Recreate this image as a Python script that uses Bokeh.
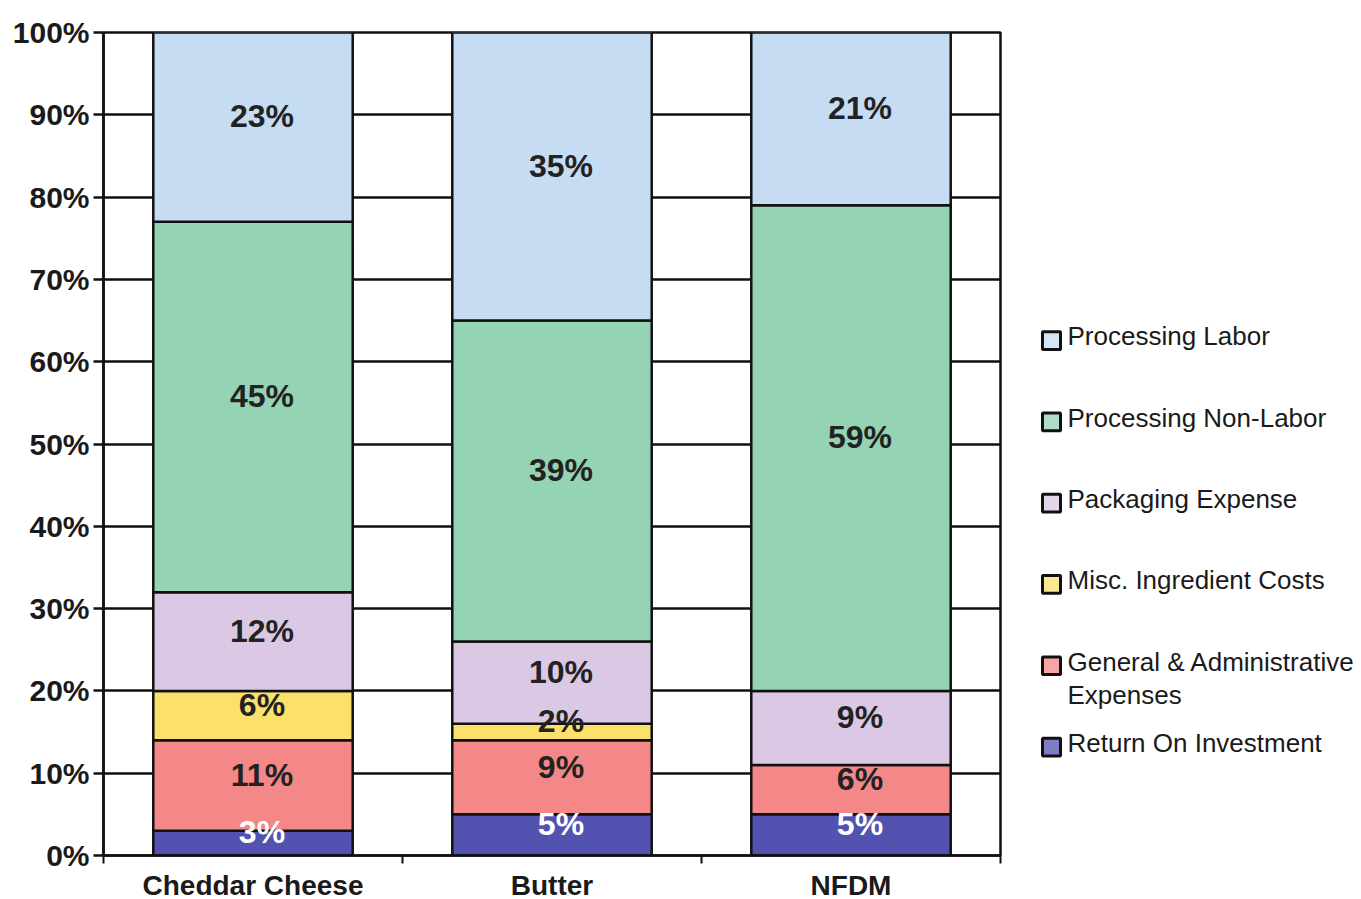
from bokeh.plotting import figure
from bokeh.layouts import row
from bokeh.models import FixedTicker, PrintfTickFormatter
from bokeh.core.properties import value
from bokeh.embed import file_html
from bokeh.resources import INLINE

categories = ["Cheddar Cheese", "Butter", "NFDM"]
series = ["Return On Investment", "General & Administrative\nExpenses", "Misc. Ingredient Costs",
          "Packaging Expense", "Processing Non-Labor", "Processing Labor"]
roi = [3, 5, 5]
g_and_a = [11, 9, 6]
misc = [6, 2, 0]
packaging = [12, 10, 9]
non_labor = [45, 39, 59]
labor = [23, 35, 21]
colors = ["#5252b0", "#f48787", "#fbe06c", "#dac8e4", "#94d3b3", "#c5dcf2"]
label_colors = ["white", "#222222", "#222222", "#222222", "#222222", "#222222"]
y_ticks = [0, 10, 20, 30, 40, 50, 60, 70, 80, 90, 100]

values = [roi, g_and_a, misc, packaging, non_labor, labor]

p = figure(frame_width=897, frame_height=823, x_range=(0, 3), y_range=(0, 100),
           output_backend="svg", toolbar_location=None,
           min_border_left=103, min_border_right=8, min_border_top=32, min_border_bottom=5)
p.background_fill_color = "white"
p.outline_line_color = "#111111"
p.outline_line_width = 2.5
p.xgrid.visible = False
p.ygrid.ticker = FixedTicker(ticks=y_ticks)
p.ygrid.grid_line_color = "#111111"
p.ygrid.grid_line_width = 2.5

bottoms = [0.0] * len(categories)
xs = [i + 0.5 for i in range(len(categories))]
labels = []
for s, vals in enumerate(values):
    bx, bb, bt = [], [], []
    for i, v in enumerate(vals):
        if v > 0:
            bx.append(xs[i]); bb.append(bottoms[i]); bt.append(bottoms[i] + v)
            labels.append((xs[i] + 0.03, bottoms[i] + v / 2 + 1.3, f"{v}%", label_colors[s]))
        bottoms[i] += v
    p.vbar(x=bx, bottom=bb, top=bt, width=0.667, fill_color=colors[s],
           line_color="#111111", line_width=2.5)

p.text(x=[l[0] for l in labels], y=[l[1] for l in labels], text=[l[2] for l in labels],
       text_color=[l[3] for l in labels], text_align="center", text_baseline="middle",
       text_font=value("Liberation Sans"), text_font_style="bold", text_font_size="32px")

ya = p.yaxis[0]
ya.ticker = FixedTicker(ticks=y_ticks)
ya.formatter = PrintfTickFormatter(format="%d%%")
ya.axis_line_color = "#111111"
ya.axis_line_width = 2.5
ya.major_tick_line_color = "#111111"
ya.major_tick_line_width = 2.5
ya.major_tick_out = 10
ya.major_tick_in = 0
ya.minor_tick_line_color = None
ya.major_label_text_font = "Liberation Sans"
ya.major_label_text_font_style = "bold"
ya.major_label_text_font_size = "30px"
ya.major_label_text_color = "#1a1a1a"
ya.major_label_standoff = 4

xa = p.xaxis[0]
xa.ticker = FixedTicker(ticks=xs, minor_ticks=list(range(len(categories) + 1)))
xa.major_label_overrides = {x: c for x, c in zip(xs, categories)}
xa.axis_line_color = "#111111"
xa.axis_line_width = 2.5
xa.major_tick_line_color = None
xa.major_tick_out = 8
xa.major_tick_in = 0
xa.minor_tick_line_color = "#111111"
xa.minor_tick_line_width = 2
xa.minor_tick_out = 8
xa.minor_tick_in = 0
xa.major_label_text_font = "Liberation Sans"
xa.major_label_text_font_style = "bold"
xa.major_label_text_font_size = "28px"
xa.major_label_text_color = "#1a1a1a"
xa.major_label_standoff = 6

# legend panel (frame aligned with the main plot frame)
LW = 353
lg = figure(width=LW, height=890, x_range=(0, LW), y_range=(855, 32),
            output_backend="svg", toolbar_location=None,
            min_border=0, outline_line_color=None)
lg.axis.visible = False
lg.grid.visible = False
order = list(range(len(series)))[::-1]
spacing = 82.6
top0 = 340
mx, my, tx, ty, tt, mc = [], [], [], [], [], []
for k, s in enumerate(order):
    yc = top0 + k * spacing
    mx.append(43); my.append(yc + 5)
    tx.append(59); ty.append(yc - 14.5); tt.append(series[s]); mc.append(colors[s])
lg.rect(x=mx, y=my, width=18, height=18, fill_color=mc, fill_alpha=0.75,
        line_color="#111111", line_width=3)
lg.text(x=tx, y=ty, text=tt, text_align="left", text_baseline="top",
        text_font=value("Liberation Sans"), text_font_size="26px",
        text_color="#1a1a1a", text_line_height=1.1)

layout = row(p, lg, spacing=0)
open("out.html", "w").write(file_html(layout, INLINE))
